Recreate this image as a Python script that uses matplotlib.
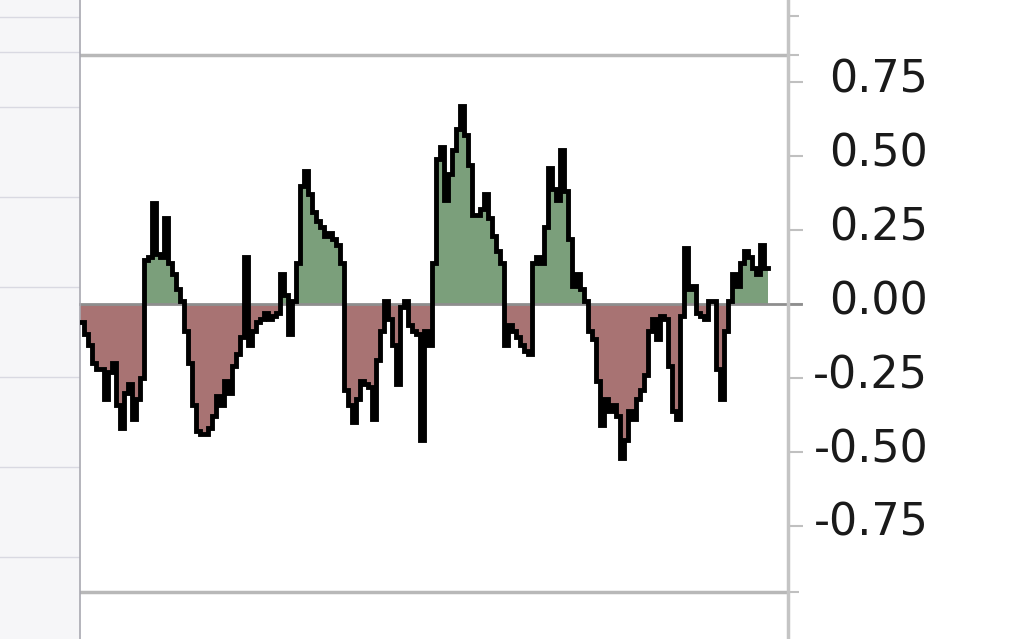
import numpy as np
import matplotlib.pyplot as plt
import matplotlib.transforms as mtransforms

# oscillator readings, one per bar (left to right)
osc = [-0.06, -0.10, -0.14, -0.20, -0.22, -0.22, -0.32, -0.23, -0.20, -0.34,
       -0.42, -0.30, -0.27, -0.39, -0.32, -0.25, 0.15, 0.16, 0.34, 0.17,
       0.16, 0.29, 0.14, 0.10, 0.05, 0.01, -0.09, -0.20, -0.34, -0.43,
       -0.44, -0.44, -0.42, -0.38, -0.31, -0.34, -0.26, -0.30, -0.21, -0.17,
       -0.11, 0.16, -0.14, -0.09, -0.06, -0.05, -0.03, -0.05, -0.04, -0.03,
       0.10, 0.03, -0.10, 0.01, 0.14, 0.40, 0.45, 0.37, 0.31, 0.28,
       0.26, 0.23, 0.24, 0.22, 0.20, 0.14, -0.29, -0.34, -0.40, -0.32,
       -0.26, -0.27, -0.28, -0.39, -0.19, -0.09, 0.01, -0.05, -0.14, -0.27,
       -0.01, 0.01, -0.07, -0.09, -0.10, -0.46, -0.09, -0.14, 0.14, 0.49,
       0.53, 0.35, 0.44, 0.52, 0.59, 0.67, 0.57, 0.47, 0.30, 0.30,
       0.32, 0.37, 0.29, 0.23, 0.18, 0.14, -0.14, -0.07, -0.09, -0.11,
       -0.14, -0.16, -0.17, 0.14, 0.16, 0.14, 0.26, 0.46, 0.39, 0.35,
       0.52, 0.38, 0.22, 0.06, 0.10, 0.05, 0.01, -0.09, -0.12, -0.26,
       -0.41, -0.32, -0.36, -0.34, -0.38, -0.52, -0.46, -0.36, -0.39, -0.32,
       -0.29, -0.24, -0.09, -0.05, -0.12, -0.04, -0.05, -0.21, -0.36, -0.39,
       -0.04, 0.19, 0.05, 0.06, -0.03, -0.04, -0.05, 0.01, 0.01, -0.22,
       -0.32, -0.09, 0.01, 0.10, 0.06, 0.14, 0.18, 0.16, 0.12, 0.10,
       0.20, 0.12]

tick_vals = [0.75, 0.50, 0.25, 0.00, -0.25, -0.50, -0.75]
tick_text = ['0.75', '0.50', '0.25', '0.00', '-0.25', '-0.50', '-0.75']

GREEN = '#7b9f7b'
RED = '#a87373'

fig = plt.figure(figsize=(10.27, 6.39), dpi=100)

# faded neighbouring panel on the left
side = fig.add_axes([0, 0, 80 / 1027, 1])
side.set_facecolor('#f6f6f8')
side.set_xlim(0, 1)
side.set_ylim(639, 0)
for yy in [17, 52, 107, 197, 287, 377, 467, 557]:
    side.axhline(yy, color='#d9d9e2', lw=1)
side.set_xticks([])
side.set_yticks([])
for s in side.spines.values():
    s.set_visible(False)

ax = fig.add_axes([80 / 1027, 0, 708 / 1027, 1])
v = np.array(osc)
x = np.arange(len(v) + 1)
ve = np.append(v, v[-1])

ax.fill_between(x, 0, np.maximum(ve, 0), step='post', color=GREEN, lw=0, zorder=1)
ax.fill_between(x, 0, np.minimum(ve, 0), step='post', color=RED, lw=0, zorder=1)
ax.axhline(0, xmin=0, xmax=1.018, color='#8e8e8e', lw=2, zorder=2, clip_on=False)
ax.step(x, ve, where='post', color='black', lw=3.5, zorder=3, solid_joinstyle='miter')

ax.axhline(0.84, color='#b8b8b8', lw=2.5, zorder=0)
ax.axhline(-0.973, color='#b8b8b8', lw=2.5, zorder=0)

ax.set_xlim(0, 177)
ax.set_ylim(-1.132, 1.027)
ax.set_xticks([])

ax.yaxis.tick_right()
ax.set_yticks(tick_vals)
ax.set_yticklabels(tick_text, fontsize=32, color='#1a1a1a', ha='right')
ax.set_yticks([0.973, 0.84, -0.973], minor=True)
ax.tick_params(axis='y', which='major', length=11, width=1.5, color='#c0c0c0', pad=90)
ax.tick_params(axis='y', which='minor', length=8, width=1.5, color='#c0c0c0')

# the labels sit a little above their ticks in the original
shift = mtransforms.ScaledTranslation(0, 5 / 72, fig.dpi_scale_trans)
for lab in ax.get_yticklabels():
    lab.set_transform(lab.get_transform() + shift)

for side_name in ['top', 'bottom']:
    ax.spines[side_name].set_visible(False)
ax.spines['left'].set_color('#a8a8b0')
ax.spines['left'].set_linewidth(1.2)
ax.spines['right'].set_color('#c4c4c4')
ax.spines['right'].set_linewidth(2.5)

fig.savefig('out.png', dpi=100)
